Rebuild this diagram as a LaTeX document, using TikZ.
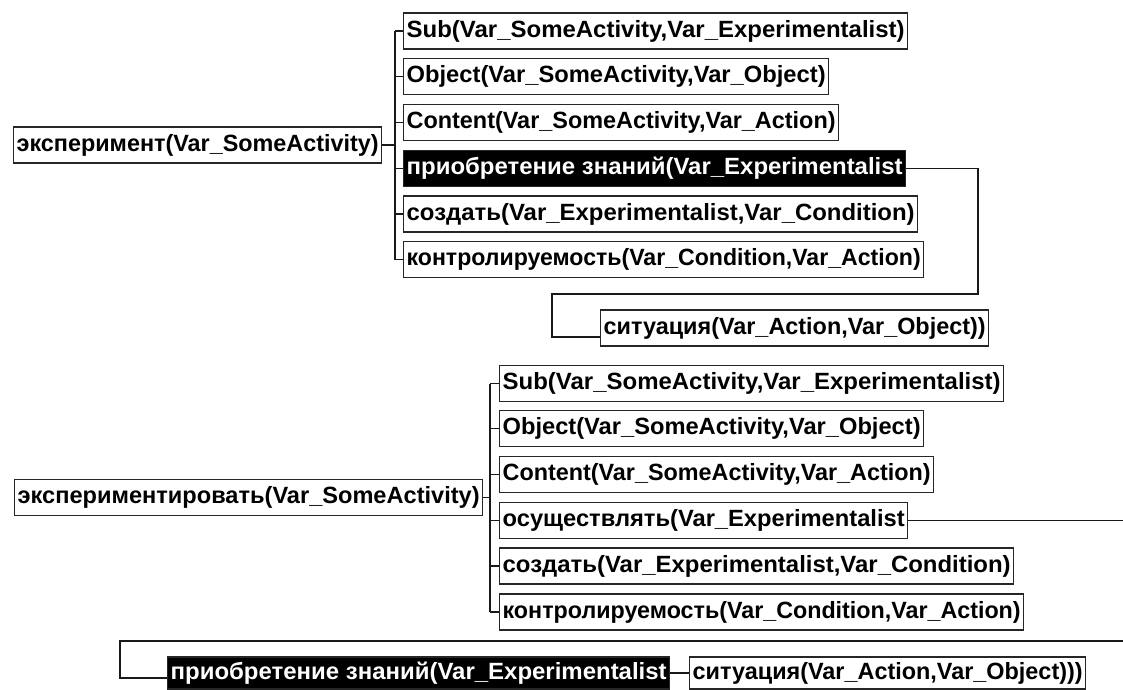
\documentclass[tikz,border=0pt]{standalone}
\usepackage{fontspec}
\usepackage{graphicx}
\setmainfont{Liberation Sans}
\usetikzlibrary{calc}
% stretch a label horizontally to a given width, keeping its height
\newcommand\boxtxt[2]{\resizebox{#1}{\height}{#2}}
\begin{document}
\begin{tikzpicture}[x=1pt,y=-1pt,
  term/.style={draw=black!85, line width=1.3pt, fill=white, anchor=west,
    minimum height=36pt, inner xsep=3pt, inner ysep=0pt,
    font=\fontsize{23.5}{28}\selectfont\bfseries, text height=17pt, text depth=5pt},
  focus/.style={term, fill=black, text=white},
  link/.style={line width=1.2pt, draw=black!90}]
\useasboundingbox[fill=white] (0,0) rectangle (1123,689);

% ---- first frame: эксперимент ----
\node[term] (r1) at (13,145) {\boxtxt{362pt}{эксперимент(Var\_SomeActivity)}};
\coordinate (b1) at (395,145);
\node[term]  (c1) at (403,31)    {\boxtxt{498pt}{Sub(Var\_SomeActivity,Var\_Experimentalist)}};
\node[term]  (c2) at (403,76.5)  {\boxtxt{419pt}{Object(Var\_SomeActivity,Var\_Object)}};
\node[term]  (c3) at (403,122.5) {\boxtxt{429pt}{Content(Var\_SomeActivity,Var\_Action)}};
\node[focus] (c4) at (403,168.5) {\boxtxt{496pt}{приобретение знаний(Var\_Experimentalist}};
\node[term]  (c5) at (403,214)   {\boxtxt{508pt}{создать(Var\_Experimentalist,Var\_Condition)}};
\node[term]  (c6) at (403,259.5) {\boxtxt{514pt}{контролируемость(Var\_Condition,Var\_Action)}};
\node[term]  (s1) at (600,328)   {\boxtxt{382pt}{ситуация(Var\_Action,Var\_Object))}};

\draw[link] (r1.east) -- (b1);
\draw[link] (b1 |- c1.west) -- (b1 |- c6.west);
\foreach \n in {c1,c2,c3,c4,c5,c6} \draw[link] (b1 |- \n.west) -- (\n.west);
\coordinate (k1) at (978,294);
\coordinate (k2) at (552,294);
\draw[link] (c4.east) -| (k1) -- (k2) |- ($(s1.west)+(0,9)$);

% ---- second frame: экспериментировать ----
\node[term] (r2) at (14,497.5) {\boxtxt{462pt}{экспериментировать(Var\_SomeActivity)}};
\coordinate (b2) at (490,497.5);
\node[term] (d1) at (499,383.5) {\boxtxt{498pt}{Sub(Var\_SomeActivity,Var\_Experimentalist)}};
\node[term] (d2) at (499,428.5) {\boxtxt{418pt}{Object(Var\_SomeActivity,Var\_Object)}};
\node[term] (d3) at (499,474.5) {\boxtxt{428pt}{Content(Var\_SomeActivity,Var\_Action)}};
\node[term] (d4) at (499,520.5) {\boxtxt{402pt}{осуществлять(Var\_Experimentalist}};
\node[term] (d5) at (499,566)   {\boxtxt{508pt}{создать(Var\_Experimentalist,Var\_Condition)}};
\node[term] (d6) at (499,612)   {\boxtxt{518pt}{контролируемость(Var\_Condition,Var\_Action)}};

\draw[link] (r2.east) -- (b2);
\draw[link] (b2 |- d1.west) -- (b2 |- d6.west);
\foreach \n in {d1,d2,d3,d4,d5,d6} \draw[link] (b2 |- \n.west) -- (\n.west);
\coordinate (e1) at (1123,520.5);
\draw[link] (d4.east) -- (e1);

% continuation row
\node[focus, minimum height=32pt] (p)  at (167,673) {\boxtxt{496pt}{приобретение знаний(Var\_Experimentalist}};
\node[term,  minimum height=32pt] (s2) at (689,673) {\boxtxt{390pt}{ситуация(Var\_Action,Var\_Object)))}};
\coordinate (e2) at (1123,641);
\coordinate (e3) at (120,641);
\draw[link] (e2) -- (e3) |- ($(p.west)+(0,5)$);
\draw[link] (p.east) -- (s2.west);
\end{tikzpicture}
\end{document}
